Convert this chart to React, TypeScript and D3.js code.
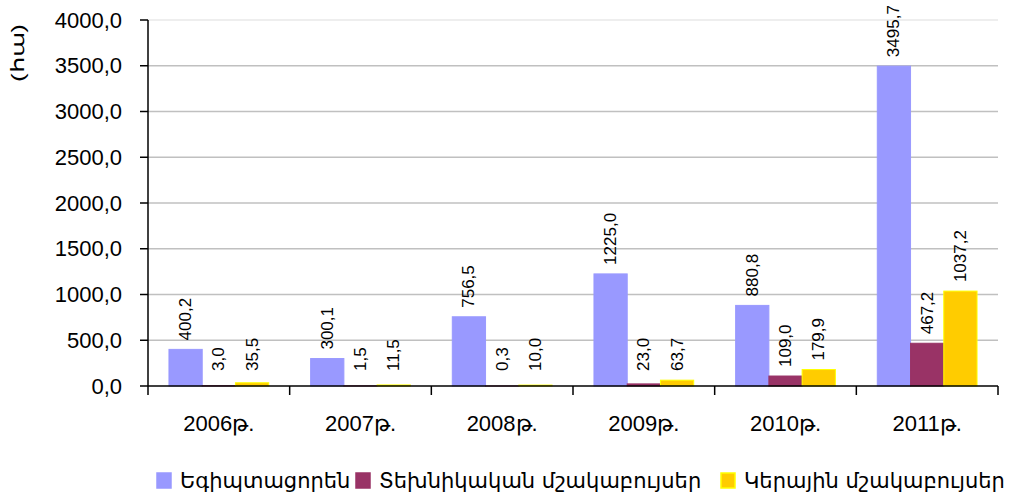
import { useEffect, useRef } from "react";
import * as d3 from "d3";

const WIDTH = 1011;
const HEIGHT = 497;
const MARGIN = { top: 20, right: 13, bottom: 111, left: 148 };

const years = ["2006թ.", "2007թ.", "2008թ.", "2009թ.", "2010թ.", "2011թ."];
const seriesNames = ["Եգիպտացորեն", "Տեխնիկական մշակաբույսեր", "Կերային մշակաբույսեր"];
const corn = [400.2, 300.1, 756.5, 1225.0, 880.8, 3495.7];
const technical = [3.0, 1.5, 0.3, 23.0, 109.0, 467.2];
const fodder = [35.5, 11.5, 10.0, 63.7, 179.9, 1037.2];
const yTicks = [0, 500, 1000, 1500, 2000, 2500, 3000, 3500, 4000];

const fills = ["#9999FF", "#993366", "#FFCC00"];
const strokes = ["#9999FF", "#993366", "#FFFF00"];

const fmt = (v: number) => v.toFixed(1).replace(".", ",");
const FONT = "Liberation Sans, Arial, sans-serif";

export default function App() {
  const svgRef = useRef<SVGSVGElement>(null);

  useEffect(() => {
    if (!svgRef.current) return;
    const svg = d3.select(svgRef.current);
    svg.selectAll("*").remove();

    const innerW = WIDTH - MARGIN.left - MARGIN.right;
    const innerH = HEIGHT - MARGIN.top - MARGIN.bottom;
    const g = svg.append("g").attr("transform", `translate(${MARGIN.left},${MARGIN.top})`);

    const x = d3.scaleBand().domain(years).range([0, innerW]).padding(0);
    const groupPad = 0.148;
    const x1 = d3
      .scaleBand()
      .domain(["0", "1", "2"])
      .range([x.bandwidth() * groupPad, x.bandwidth() * (1 - groupPad)]);
    const y = d3.scaleLinear().domain([0, 4000]).range([innerH, 0]);

    // gridlines
    g.selectAll("line.grid")
      .data(yTicks.filter((t) => t > 0))
      .join("line")
      .attr("x1", 0)
      .attr("x2", innerW)
      .attr("y1", (d) => y(d))
      .attr("y2", (d) => y(d))
      .attr("stroke", (d) => (d === 4000 ? "#e8e8e8" : "#c0c0c0"))
      .attr("stroke-width", 1.5);

    const data = [corn, technical, fodder];
    data.forEach((vals, si) => {
      const sg = g.append("g");
      sg.selectAll("rect")
        .data(vals)
        .join("rect")
        .attr("x", (_, i) => (x(years[i]) ?? 0) + (x1(String(si)) ?? 0))
        .attr("width", x1.bandwidth())
        .attr("y", (d) => y(d))
        .attr("height", (d) => innerH - y(d))
        .attr("fill", fills[si])
        .attr("stroke", strokes[si])
        .attr("stroke-width", 1);

      sg.selectAll("text")
        .data(vals)
        .join("text")
        .attr("transform", (d, i) => {
          const cx = (x(years[i]) ?? 0) + (x1(String(si)) ?? 0) + x1.bandwidth() / 2;
          const cy = Math.min(y(d) - 9, innerH - 15);
          return `translate(${cx},${cy}) rotate(-90)`;
        })
        .attr("dominant-baseline", "central")
        .attr("font-family", FONT)
        .attr("font-size", 17)
        .attr("fill", "#000")
        .text((d) => fmt(d));
    });

    // y axis
    g.append("line").attr("x1", 0).attr("x2", 0).attr("y1", 0).attr("y2", innerH).attr("stroke", "#000").attr("stroke-width", 1.5);
    g.selectAll("line.ytick")
      .data(yTicks)
      .join("line")
      .attr("x1", -8)
      .attr("x2", 0)
      .attr("y1", (d) => y(d))
      .attr("y2", (d) => y(d))
      .attr("stroke", "#000")
      .attr("stroke-width", 1.5);
    g.selectAll("text.ylab")
      .data(yTicks)
      .join("text")
      .attr("x", -26)
      .attr("y", (d) => y(d))
      .attr("text-anchor", "end")
      .attr("dominant-baseline", "central")
      .attr("font-family", FONT)
      .attr("font-size", 22)
      .text((d) => fmt(d));

    // x axis
    g.append("line").attr("x1", 0).attr("x2", innerW).attr("y1", innerH).attr("y2", innerH).attr("stroke", "#000").attr("stroke-width", 1.5);
    const bounds = years.map((yr) => x(yr) ?? 0).concat([innerW]);
    g.selectAll("line.xtick")
      .data(bounds)
      .join("line")
      .attr("x1", (d) => d)
      .attr("x2", (d) => d)
      .attr("y1", innerH)
      .attr("y2", innerH + 9)
      .attr("stroke", "#000")
      .attr("stroke-width", 1.5);
    g.selectAll("text.xlab")
      .data(years)
      .join("text")
      .attr("x", (d) => (x(d) ?? 0) + x.bandwidth() / 2)
      .attr("y", innerH + 37)
      .attr("text-anchor", "middle")
      .attr("dominant-baseline", "central")
      .attr("font-family", FONT)
      .attr("font-size", 22)
      .text((d) => d);

    // y axis title
    svg
      .append("text")
      .attr("transform", "translate(18,53) rotate(-90) scale(1.45,1)")
      .attr("text-anchor", "middle")
      .attr("dominant-baseline", "central")
      .attr("font-family", FONT)
      .attr("font-size", 18)
      .text("(հա)");

    // legend
    const legendX = [157, 356, 721];
    const lg = svg.append("g");
    seriesNames.forEach((name, i) => {
      lg.append("rect")
        .attr("x", legendX[i])
        .attr("y", 473)
        .attr("width", 14)
        .attr("height", 15)
        .attr("fill", fills[i])
        .attr("stroke", strokes[i])
        .attr("stroke-width", 1.5);
      lg.append("text")
        .attr("x", legendX[i] + 23)
        .attr("y", 488)
        .attr("font-family", "DejaVu Sans, sans-serif")
        .attr("font-size", 21)
        .text(name);
    });
  }, []);

  return (
    <svg
      ref={svgRef}
      width={WIDTH}
      height={HEIGHT}
      style={{ position: "absolute", left: 0, top: 0, background: "#fff" }}
    />
  );
}
